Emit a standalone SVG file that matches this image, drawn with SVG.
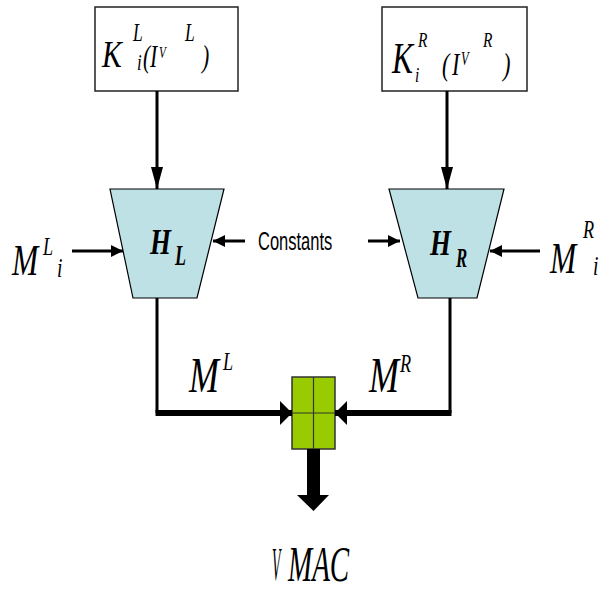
<svg xmlns="http://www.w3.org/2000/svg" width="605" height="593" viewBox="0 0 605 593">
<style>
.t{font-family:"Liberation Serif","Times New Roman",serif;font-style:italic;fill:#000}
.b{font-weight:bold}
.s{font-family:"Liberation Sans",Arial,sans-serif;fill:#000}
.box{fill:#fff;stroke:#222;stroke-width:1.5}
.trap{fill:#BDE1E4;stroke:#000;stroke-width:1.2}
.ln{fill:none;stroke:#000;stroke-width:3}
.thick{fill:none;stroke:#000;stroke-width:6}
</style>
<defs>
<marker id="ah" markerUnits="userSpaceOnUse" markerWidth="12" markerHeight="12" refX="12" refY="6" orient="auto"><path d="M0,0 L12,6 L0,12 z" fill="#000"/></marker>
<marker id="ahl" markerUnits="userSpaceOnUse" markerWidth="22" markerHeight="12" refX="22" refY="6" orient="auto"><path d="M0,0 L22,6 L0,12 z" fill="#000"/></marker>
<marker id="aht" markerUnits="userSpaceOnUse" markerWidth="12" markerHeight="24" refX="12" refY="12" orient="auto"><path d="M0,0 L12,12 L0,24 z" fill="#000"/></marker>
</defs>
<rect width="605" height="593" fill="#fff"/>

<g id="boxL">
<rect class="box" x="95" y="7" width="143" height="84"/>
<text class="t" font-size="37" transform="translate(102,67) scale(0.8,1)">K</text>
<text class="t" font-size="25" transform="translate(133,41) scale(0.7,1)">L</text>
<text class="t" font-size="24" transform="translate(137,70) scale(0.7,1)">i</text>
<text class="t" font-size="31" transform="translate(143,67) scale(0.7,1)">(</text>
<text class="t" font-size="31" transform="translate(150,67) scale(0.7,1)">I</text>
<text class="t" font-size="16" transform="translate(159,58) scale(0.7,1)">V</text>
<text class="t" font-size="25" transform="translate(185,41) scale(0.7,1)">L</text>
<text class="t" font-size="31" transform="translate(202,67) scale(0.7,1)">)</text>
</g>

<g id="boxR">
<rect class="box" x="382" y="7" width="145" height="84"/>
<text class="t" font-size="45" transform="translate(392,73) scale(0.7,1)">K</text>
<text class="t" font-size="22" transform="translate(415,82) scale(0.7,1)">i</text>
<text class="t" font-size="22" transform="translate(418,47) scale(0.7,1)">R</text>
<text class="t" font-size="32" transform="translate(442,75) scale(0.7,1)">(</text>
<text class="t" font-size="32" transform="translate(452,75) scale(0.7,1)">I</text>
<text class="t" font-size="18" transform="translate(461,65) scale(0.7,1)">V</text>
<text class="t" font-size="22" transform="translate(483,47) scale(0.7,1)">R</text>
<text class="t" font-size="32" transform="translate(503,75) scale(0.7,1)">)</text>
</g>

<g id="HL">
<polygon class="trap" points="110,189 224,189 197,298 133,298"/>
<text class="t b" font-size="36" transform="translate(150,254) scale(0.75,1)">H</text>
<text class="t b" font-size="30" transform="translate(175,265) scale(0.6,1)">L</text>
</g>

<g id="HR">
<polygon class="trap" points="389,189 504,189 477,298 418,298"/>
<text class="t b" font-size="36" transform="translate(430,255) scale(0.75,1)">H</text>
<text class="t b" font-size="28" transform="translate(456,267) scale(0.6,1)">R</text>
</g>

<g id="mux">
<rect x="292" y="377" width="43" height="72" fill="#99CC00" stroke="#333" stroke-width="1.5"/>
<line x1="313.5" y1="377" x2="313.5" y2="449" stroke="#333" stroke-width="1.2"/>
<line x1="292" y1="413" x2="335" y2="413" stroke="#333" stroke-width="1.2"/>
</g>

<g id="labels">
<text class="t" font-size="45" transform="translate(12,275) scale(0.7,1)">M</text>
<text class="t" font-size="26" transform="translate(43,255) scale(0.7,1)">L</text>
<text class="t" font-size="28" transform="translate(57,277) scale(0.7,1)">i</text>
<text class="t" font-size="45" transform="translate(550,273) scale(0.7,1)">M</text>
<text class="t" font-size="26" transform="translate(583,238) scale(0.7,1)">R</text>
<text class="t" font-size="28" transform="translate(593,275) scale(0.7,1)">i</text>
<text class="s" font-size="25" transform="translate(258,250) scale(0.66,1)">Constants</text>
<text class="t" font-size="50" transform="translate(189,392) scale(0.72,1)">M</text>
<text class="t" font-size="26" transform="translate(223,370) scale(0.7,1)">L</text>
<text class="t" font-size="50" transform="translate(369,392) scale(0.72,1)">M</text>
<text class="t" font-size="26" transform="translate(400,372) scale(0.7,1)">R</text>
<text class="t" font-size="46" transform="translate(272,580) scale(0.3,1)">V</text>
<text class="t" font-size="50" transform="translate(288,581) scale(0.58,1)">MAC</text>
</g>

<g id="connectors">
<line class="ln" x1="157" y1="91" x2="157" y2="189" marker-end="url(#ahl)"/>
<line class="ln" x1="447" y1="91" x2="447" y2="189" marker-end="url(#ahl)"/>
<line class="ln" x1="72" y1="251" x2="123" y2="251" marker-end="url(#ah)"/>
<line class="ln" x1="245" y1="241" x2="213" y2="241" marker-end="url(#ah)"/>
<line class="ln" x1="368" y1="241" x2="400" y2="241" marker-end="url(#ah)"/>
<line class="ln" x1="540" y1="251" x2="490" y2="251" marker-end="url(#ah)"/>
<polyline class="ln" points="157,298 157,413"/>
<polyline class="ln" points="450,298 450,413"/>
<line class="thick" x1="155.5" y1="413" x2="292" y2="413" marker-end="url(#aht)"/>
<line class="thick" x1="451.5" y1="413" x2="335" y2="413" marker-end="url(#aht)"/>
<path d="M307,449 H320 V495 H329 L313.5,511 L297,495 H307 Z" fill="#000"/>
</g>
</svg>
